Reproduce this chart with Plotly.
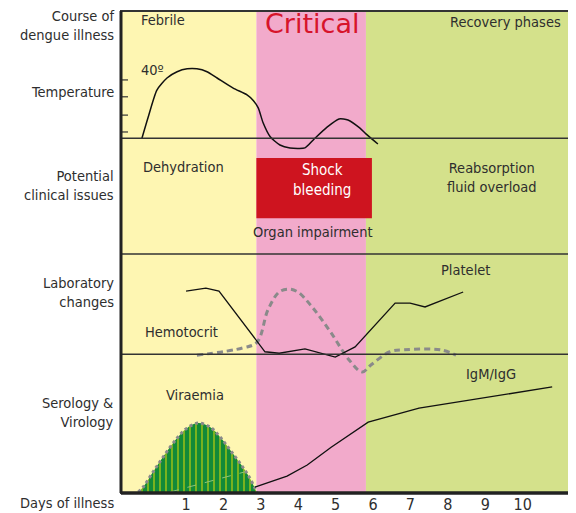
import plotly.graph_objects as go

# ---------------- data (x = day of illness, y = relative level 0-100) ----------------
phase_names = ["Febrile", "Critical", "Recovery phases"]
phase_starts = [-0.74, 2.88, 5.81]
phase_ends = [2.88, 5.81, 11.24]
phase_colors = ["#FEF6B2", "#F2AACB", "#D4E18B"]

day_ticks = [1, 2, 3, 4, 5, 6, 7, 8, 9, 10]
day_labels = ["1", "2", "3", "4", "5", "6", "7", "8", "9", "10"]

section_dividers = [73.6, 49.6, 28.8]
temp_ticks = [85.7, 82.2, 78.4, 74.9]

temp_days = [-0.18, -0.02, 0.22, 0.49, 0.76, 1.03, 1.29, 1.56, 1.83, 2.26, 2.63, 2.79,
             2.93, 3.06, 3.25, 3.51, 3.78, 4.18, 4.42, 4.77, 5.09, 5.33, 5.65, 5.81, 6.13]
temp_vals = [73.6, 77.8, 83.6, 86.1, 87.4, 88.0, 88.0, 87.4, 86.1, 84.0, 82.6, 81.5,
             79.9, 76.8, 73.9, 72.2, 71.6, 71.6, 73.4, 75.9, 77.6, 77.4, 75.7, 74.5, 72.4]

platelet_days = [1.0, 1.53, 1.88, 3.11, 3.49, 4.18, 4.99, 5.52, 6.59, 6.99, 7.39, 8.41]
platelet_vals = [41.9, 42.5, 41.9, 29.3, 29.0, 29.9, 28.2, 30.3, 39.4, 39.4, 38.6, 41.7]

hemato_days = [1.29, 2.52, 2.90, 3.19, 3.49, 3.75, 3.99, 4.37, 4.88, 5.36, 5.71, 5.95,
               6.45, 6.83, 7.82, 8.22]
hemato_vals = [28.6, 30.1, 31.3, 38.0, 41.7, 42.3, 41.7, 38.6, 33.2, 27.6, 25.1, 26.6,
               29.3, 29.7, 29.7, 28.6]

igm_days = [2.84, 3.70, 4.24, 4.88, 5.87, 7.23, 10.79]
igm_vals = [1.2, 3.5, 5.8, 9.5, 14.7, 17.6, 22.0]

viraemia_days = [-0.28, -0.15, 0.12, 0.39, 0.76, 1.03, 1.32, 1.64, 1.91, 2.18, 2.44,
                 2.66, 2.84, 2.90]
viraemia_vals = [0.2, 1.2, 4.4, 7.5, 11.4, 13.5, 14.5, 13.7, 11.6, 8.9, 6.2, 3.7, 1.0, 0.0]
viraemia_inner_days = [0.57, 2.58]
viraemia_inner_vals = [0.2, 4.4]

red_box_days = [2.88, 5.97]
red_box_vals = [57.0, 69.5]

# ---------------- figure ----------------
FONT = "DejaVu Sans Condensed, Liberation Sans Narrow, Arial Narrow, sans-serif"
TXT = "#2e2e2e"
FS = 14.5

fig = go.Figure()

shapes = []
for x0, x1, c in zip(phase_starts, phase_ends, phase_colors):
    shapes.append(dict(type="rect", xref="x", yref="paper", x0=x0, x1=x1, y0=0, y1=1,
                       fillcolor=c, line=dict(width=0), layer="below"))
shapes.append(dict(type="rect", xref="x", yref="y", x0=red_box_days[0], x1=red_box_days[1],
                   y0=red_box_vals[0], y1=red_box_vals[1], fillcolor="#CE141F",
                   line=dict(width=0), layer="below"))
for yv in section_dividers:
    shapes.append(dict(type="line", xref="paper", yref="y", x0=0, x1=1, y0=yv, y1=yv,
                       line=dict(color="#333333", width=1.5)))
for yv in temp_ticks:
    shapes.append(dict(type="line", xref="paper", yref="y", x0=0, x1=7 / 448, y0=yv, y1=yv,
                       line=dict(color="#333333", width=1.2)))
# frame
shapes.append(dict(type="rect", xref="paper", yref="paper", x0=0, x1=1, y0=0, y1=1,
                   line=dict(color="#333333", width=2)))
shapes.append(dict(type="line", xref="paper", yref="paper", x0=0, x1=0, y0=0, y1=1,
                   line=dict(color="#222222", width=3)))
shapes.append(dict(type="line", xref="paper", yref="paper", x0=0, x1=1, y0=0, y1=0,
                   line=dict(color="#222222", width=3.5)))

# Viraemia
fig.add_trace(go.Scatter(x=viraemia_days, y=viraemia_vals, mode="lines",
                         line=dict(color="#8a8a8a", width=3, dash="dot", shape="spline"),
                         fill="tozeroy", fillcolor="#128A38",
                         fillpattern=dict(shape="|", bgcolor="#128A38", fgcolor="#F5E400",
                                          size=6, solidity=0.3),
                         hoverinfo="skip", showlegend=False))
fig.add_trace(go.Scatter(x=viraemia_inner_days, y=viraemia_inner_vals, mode="lines",
                         line=dict(color="#8fc27a", width=1, dash="dash"),
                         hoverinfo="skip", showlegend=False))
# Temperature
fig.add_trace(go.Scatter(x=temp_days, y=temp_vals, mode="lines",
                         line=dict(color="#111111", width=1.5, shape="spline", smoothing=0.6),
                         hoverinfo="skip", showlegend=False))
# Hematocrit
fig.add_trace(go.Scatter(x=hemato_days, y=hemato_vals, mode="lines",
                         line=dict(color="#8a8a8a", width=3, dash="6px,4px", shape="spline"),
                         hoverinfo="skip", showlegend=False))
# Platelet
fig.add_trace(go.Scatter(x=platelet_days, y=platelet_vals, mode="lines",
                         line=dict(color="#111111", width=1.3),
                         hoverinfo="skip", showlegend=False))
# IgM/IgG
fig.add_trace(go.Scatter(x=igm_days, y=igm_vals, mode="lines",
                         line=dict(color="#111111", width=1.3),
                         hoverinfo="skip", showlegend=False))

ann = []
def txt(x, y, s, size=FS, color=TXT, xanchor="center", family=FONT):
    ann.append(dict(x=x, y=y, xref="x", yref="y", text=s, showarrow=False,
                    font=dict(family=family, size=size, color=color), xanchor=xanchor,
                    yanchor="middle"))

txt(-0.27, 98.1, phase_names[0], xanchor="left")
txt(4.37, 97.4, phase_names[1], size=27, color="#D7142B", family="DejaVu Sans, sans-serif")
txt(11.08, 97.7, phase_names[2], xanchor="right")
txt(0.09, 87.8, "40º", size=FS)
txt(0.92, 67.6, "Dehydration")
txt(4.64, 65.0, "Shock<br>bleeding", color="#FFFFFF", size=15)
txt(4.40, 54.1, "Organ impairment")
txt(9.19, 65.4, "Reabsorption<br>fluid overload")
txt(8.46, 46.3, "Platelet")
txt(0.87, 33.4, "Hemotocrit")
txt(9.16, 24.7, "IgM/IgG")
txt(1.24, 20.3, "Viraemia")

left_labels = ["Course of<br>dengue illness", "Temperature", "Potential<br>clinical issues",
               "Laboratory<br>changes", "Serology &<br>Virology", "Days of illness"]
left_label_y = [97.0, 83.2, 63.9, 41.7, 16.8, -2.1]
for s, yv in zip(left_labels, left_label_y):
    ann.append(dict(x=0, y=yv / 100, xref="paper", yref="paper", text=s, showarrow=False,
                    align="right", xanchor="right", yanchor="middle", xshift=-5,
                    font=dict(family=FONT, size=FS, color=TXT)))

# the page body adds an 8px offset; margins compensate so the frame lands where it should
fig.update_layout(
    width=576, height=513,
    margin=dict(l=113, r=15, t=3, b=28, autoexpand=False),
    paper_bgcolor="white", plot_bgcolor="white",
    shapes=shapes, annotations=ann,
    xaxis=dict(range=[-0.74, 11.24], tickvals=day_ticks, ticktext=day_labels,
               showgrid=False, zeroline=False, showline=False, ticks="", automargin=False,
               tickfont=dict(family=FONT, size=16, color=TXT)),
    yaxis=dict(range=[0, 100], showgrid=False, zeroline=False, showline=False,
               showticklabels=False, ticks="", automargin=False),
    font=dict(family=FONT),
)

fig.write_html("out.html")
